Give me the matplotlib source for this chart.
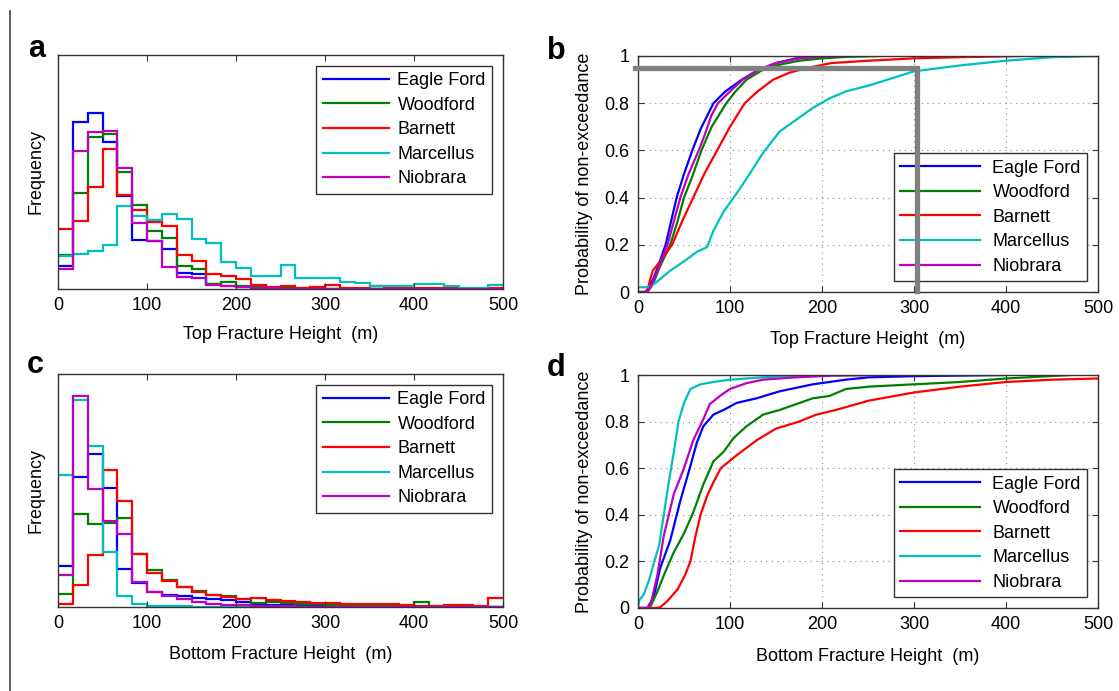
import numpy as np
import matplotlib
matplotlib.use('Agg')
import matplotlib.pyplot as plt
from matplotlib.lines import Line2D

plt.rcParams['font.family'] = ['Liberation Sans', 'DejaVu Sans']

# 图例名称与颜色 (MATLAB 默认配色)
names = ['Eagle Ford', 'Woodford', 'Barnett', 'Marcellus', 'Niobrara']
colors = ['#0000ff', '#008000', '#ff0000', '#00bfbf', '#bf00bf']

# 直方图: 0-500 m, 30 个等宽区间, 频数 (相对值)
bin_lo, bin_hi, n_bins = 0, 500, 30

eagle_top = [7.0, 50.8, 53.5, 44.5, 28.2, 15.0, 14.5, 12.2, 5.0, 4.5, 1.5, 0.8, 0.5, 0.3, 0.2,
             0.1, 0.1, 0.1, 0.1, 0, 0, 0, 0, 0, 0, 0, 0, 0, 0, 0]
woodford_top = [10.3, 29.0, 46.0, 47.0, 35.5, 25.5, 17.5, 15.5, 7.0, 6.0, 1.5, 2.0, 1.0, 0.5, 0.3,
                0.3, 0.2, 0.2, 0.1, 0.1, 0.1, 0.1, 0, 0, 0, 0, 0, 0, 0, 0]
barnett_top = [18.2, 20.5, 30.8, 42.5, 28.5, 24.0, 20.2, 19.0, 10.3, 8.5, 4.5, 4.0, 3.0, 1.3, 0.6,
               1.0, 0.4, 0.6, 1.2, 0.4, 0.3, 0.8, 0.3, 0.2, 0.2, 0.2, 0.2, 0.1, 0.1, 0.2]
marcellus_top = [10.0, 10.6, 11.6, 13.3, 25.3, 22.3, 20.8, 22.8, 21.3, 15.3, 14.1, 8.3, 6.3, 3.8, 3.8,
                 7.3, 3.3, 3.3, 3.3, 2.1, 1.8, 1.0, 1.0, 0.8, 1.6, 1.6, 0.8, 0.3, 0.3, 1.2]
niobrara_top = [6.0, 41.8, 47.5, 47.8, 36.8, 20.0, 14.5, 6.8, 3.5, 3.3, 1.3, 1.0, 0.5, 0.3, 0.2,
                0.1, 0.1, 0.1, 0, 0, 0, 0, 0, 0, 0, 0, 0, 0, 0, 0]

eagle_bot = [12.5, 39.6, 46.7, 36.2, 11.7, 7.2, 4.6, 3.6, 3.2, 2.8, 2.3, 2.1, 1.6, 0.8, 0.6,
             0.5, 0.4, 0.3, 0.3, 0.2, 0.2, 0.1, 0.1, 0.1, 0.1, 0, 0, 0, 0, 0]
woodford_bot = [4.1, 28.4, 25.2, 25.6, 27.0, 16.0, 11.2, 8.3, 6.0, 5.0, 3.8, 3.3, 2.5, 1.3, 1.6,
                1.1, 1.0, 0.8, 0.7, 0.6, 0.6, 0.4, 0.3, 0.3, 1.6, 0.2, 0.1, 0.2, 0.1, 0.1]
barnett_bot = [0.8, 6.8, 15.8, 41.8, 32.3, 16.0, 10.5, 7.8, 6.2, 4.7, 3.6, 3.1, 2.4, 2.8, 2.2,
               1.8, 1.6, 1.3, 1.2, 1.0, 1.0, 0.8, 0.8, 0.5, 0.3, 0.4, 0.6, 0.6, 0.3, 2.8]
marcellus_bot = [40.1, 63.0, 49.0, 16.7, 3.2, 0.9, 0.4, 0.3, 0.2, 0.1, 0.1, 0, 0, 0, 0,
                 0, 0, 0, 0, 0, 0, 0, 0, 0, 0, 0, 0, 0, 0, 0]
niobrara_bot = [9.8, 64.2, 35.9, 26.1, 22.1, 7.7, 4.6, 3.3, 2.4, 1.6, 0.9, 0.7, 0.5, 0.4, 0.3,
                0.2, 0.1, 0.1, 0, 0, 0, 0, 0, 0, 0, 0, 0, 0, 0, 0]

# 累积分布 (读图得到的点): 高度 (m), 不超过概率
eagle_top_x = [0, 8, 12, 17, 22, 30, 36, 42, 50, 59, 68, 82, 95, 113, 130, 150, 172, 200]
eagle_top_p = [0, 0, 0.02, 0.06, 0.11, 0.2, 0.3, 0.4, 0.5, 0.6, 0.69, 0.8, 0.85, 0.9, 0.94, 0.97, 0.99, 1.0]
woodford_top_x = [0, 10, 14, 18, 23, 35, 43, 50, 60, 69, 80, 96, 106, 118, 135, 150, 175, 200, 230, 265]
woodford_top_p = [0, 0, 0.02, 0.05, 0.1, 0.2, 0.3, 0.4, 0.5, 0.6, 0.7, 0.8, 0.85, 0.9, 0.94, 0.96, 0.98, 0.99, 0.997, 1.0]
barnett_top_x = [0, 10, 13, 16, 20, 26, 37, 48, 60, 72, 86, 100, 116, 130, 147, 165, 185, 210, 250, 300, 350, 415]
barnett_top_p = [0, 0, 0.05, 0.09, 0.11, 0.14, 0.2, 0.3, 0.4, 0.5, 0.6, 0.7, 0.8, 0.85, 0.9, 0.93, 0.95, 0.97, 0.98, 0.99, 0.995, 1.0]
marcellus_top_x = [0, 8, 14, 21, 35, 50, 64, 75, 82, 93, 104, 118, 136, 154, 172, 190, 208, 226, 251, 300, 350, 400, 450, 500]
marcellus_top_p = [0.02, 0.02, 0.025, 0.045, 0.09, 0.13, 0.17, 0.19, 0.26, 0.34, 0.4, 0.48, 0.59, 0.68, 0.73, 0.78,
                   0.82, 0.85, 0.875, 0.935, 0.96, 0.98, 0.995, 1.0]
niobrara_top_x = [0, 8, 12, 17, 22, 32, 39, 46, 55, 66, 72, 80, 87, 100, 114, 130, 150, 175, 200, 230]
niobrara_top_p = [0, 0, 0.01, 0.05, 0.1, 0.2, 0.3, 0.4, 0.5, 0.6, 0.66, 0.75, 0.8, 0.85, 0.9, 0.94, 0.97, 0.99, 0.997, 1.0]

eagle_bot_x = [0, 10, 17, 24, 35, 46, 57, 64, 71, 82, 93, 107, 129, 154, 190, 226, 251, 300, 400]
eagle_bot_p = [0, 0, 0.045, 0.17, 0.29, 0.46, 0.61, 0.71, 0.78, 0.83, 0.85, 0.88, 0.9, 0.93, 0.96, 0.98, 0.99, 0.995, 1.0]
woodford_bot_x = [0, 10, 14, 21, 28, 39, 50, 60, 71, 82, 93, 104, 118, 136, 154, 172, 190, 208, 226, 251, 300, 350, 400, 470]
woodford_bot_p = [0, 0, 0.01, 0.07, 0.14, 0.24, 0.32, 0.41, 0.53, 0.63, 0.67, 0.73, 0.78, 0.83, 0.85, 0.875, 0.9,
                  0.91, 0.94, 0.95, 0.96, 0.97, 0.985, 1.0]
barnett_bot_x = [0, 18, 24, 32, 43, 51, 57, 62, 68, 75, 82, 90, 107, 129, 150, 175, 194, 215, 251, 300, 350, 400, 450, 500]
barnett_bot_p = [0, 0, 0.003, 0.03, 0.08, 0.14, 0.2, 0.3, 0.4, 0.48, 0.54, 0.6, 0.655, 0.72, 0.77, 0.8, 0.83, 0.85,
                 0.89, 0.925, 0.95, 0.97, 0.98, 0.985]
marcellus_bot_x = [0, 1, 6.5, 12, 17, 23, 28, 33, 39, 44, 50, 57, 68, 82, 100, 136, 172, 200]
marcellus_bot_p = [0.0, 0.03, 0.06, 0.12, 0.19, 0.27, 0.40, 0.53, 0.67, 0.80, 0.88, 0.94, 0.96, 0.97, 0.98, 0.99, 0.997, 1.0]
niobrara_bot_x = [0, 10, 14, 21, 28, 39, 50, 60, 71, 78, 89, 100, 118, 136, 172, 210, 270]
niobrara_bot_p = [0, 0, 0.02, 0.14, 0.31, 0.49, 0.6, 0.72, 0.81, 0.875, 0.91, 0.94, 0.965, 0.98, 0.99, 0.997, 1.0]

# b 图中的灰色参考线 (300 m 左右, 95%)
ref_x = 303
ref_p = 0.95

hist_top = [eagle_top, woodford_top, barnett_top, marcellus_top, niobrara_top]
hist_bot = [eagle_bot, woodford_bot, barnett_bot, marcellus_bot, niobrara_bot]
cdf_top = [(eagle_top_x, eagle_top_p), (woodford_top_x, woodford_top_p), (barnett_top_x, barnett_top_p),
           (marcellus_top_x, marcellus_top_p), (niobrara_top_x, niobrara_top_p)]
cdf_bot = [(eagle_bot_x, eagle_bot_p), (woodford_bot_x, woodford_bot_p), (barnett_bot_x, barnett_bot_p),
           (marcellus_bot_x, marcellus_bot_p), (niobrara_bot_x, niobrara_bot_p)]

FS = 13
BOX = '#333333'


def style_axes(ax, xlabel, pad):
    '''坐标框: 四周封闭, 刻度朝内'''
    ax.set_xlim(0, 500)
    ax.set_xticks([0, 100, 200, 300, 400, 500])
    ax.set_xlabel(xlabel, fontsize=FS, labelpad=pad)
    ax.tick_params(direction='in', labelsize=FS, top=True, length=4, color=BOX, pad=6)
    for s in ax.spines.values():
        s.set_color(BOX)
        s.set_linewidth(1.0)


def add_legend(ax, loc, hl, tp):
    leg = ax.legend(loc=loc, fontsize=FS, handlelength=hl, handletextpad=tp,
                    labelspacing=0.42, borderpad=0.35, borderaxespad=0.6,
                    fancybox=False, framealpha=1, edgecolor=BOX)
    leg.get_frame().set_linewidth(1.0)


def draw_hist(ax, data, xlabel, pad):
    edges = np.linspace(bin_lo, bin_hi, n_bins + 1)
    for vals, name, c in zip(data, names, colors):
        ax.stairs(vals, edges, color=c, lw=1.6, label=name, baseline=None)
    ax.set_ylim(0, 71)
    ax.set_yticks([])
    ax.set_ylabel('Frequency', fontsize=FS, labelpad=10)
    style_axes(ax, xlabel, pad)
    add_legend(ax, 'upper right', 3.7, 0.45)


def draw_cdf(ax, data, xlabel, pad):
    for (x, p), name, c in zip(data, names, colors):
        ax.plot(x, p, color=c, lw=1.6, label=name)
    ax.set_ylim(0, 1)
    ax.set_yticks([0, 0.2, 0.4, 0.6, 0.8, 1])
    ax.set_yticklabels(['0', '0.2', '0.4', '0.6', '0.8', '1'])
    ax.tick_params(right=True)
    ax.grid(True, linestyle=(0, (1, 4)), color='#888888', lw=0.8)
    ax.set_ylabel('Probability of non-exceedance', fontsize=FS, labelpad=8)
    style_axes(ax, xlabel, pad)
    add_legend(ax, 'lower right', 4.4, 0.7)


fig = plt.figure(figsize=(11.19, 6.91), dpi=100)
W, H = 1119, 691


def box(l, t, r, b):
    return [l / W, 1 - b / H, (r - l) / W, (b - t) / H]


ax_a = fig.add_axes(box(58, 55, 503, 289))
ax_b = fig.add_axes(box(638, 56, 1098, 292))
ax_c = fig.add_axes(box(58, 374, 503, 607))
ax_d = fig.add_axes(box(638, 375, 1098, 608))

draw_hist(ax_a, hist_top, 'Top Fracture Height  (m)', 8.5)
draw_cdf(ax_b, cdf_top, 'Top Fracture Height  (m)', 9.5)
draw_hist(ax_c, hist_bot, 'Bottom Fracture Height  (m)', 9.5)
draw_cdf(ax_d, cdf_bot, 'Bottom Fracture Height  (m)', 10.5)

# 灰色粗线: 95% 对应约 300 m, 画在图例之上
ax_b.plot([-3, ref_x, ref_x], [ref_p, ref_p, 0.005], color='#808080', lw=3.8,
          solid_joinstyle='miter', clip_on=False, zorder=6)

# 子图编号
for lab, (x, y) in zip('abcd', [(37, 57), (556, 59), (35, 373), (556, 376)]):
    fig.text(x / W, 1 - y / H, lab, fontsize=22, fontweight='bold', ha='center', va='baseline')

# 左侧竖线
fig.add_artist(Line2D([10 / W, 10 / W], [0, 1 - 11 / H], transform=fig.transFigure,
                      color='#444444', lw=1.2))

fig.savefig('out.png', dpi=100)
